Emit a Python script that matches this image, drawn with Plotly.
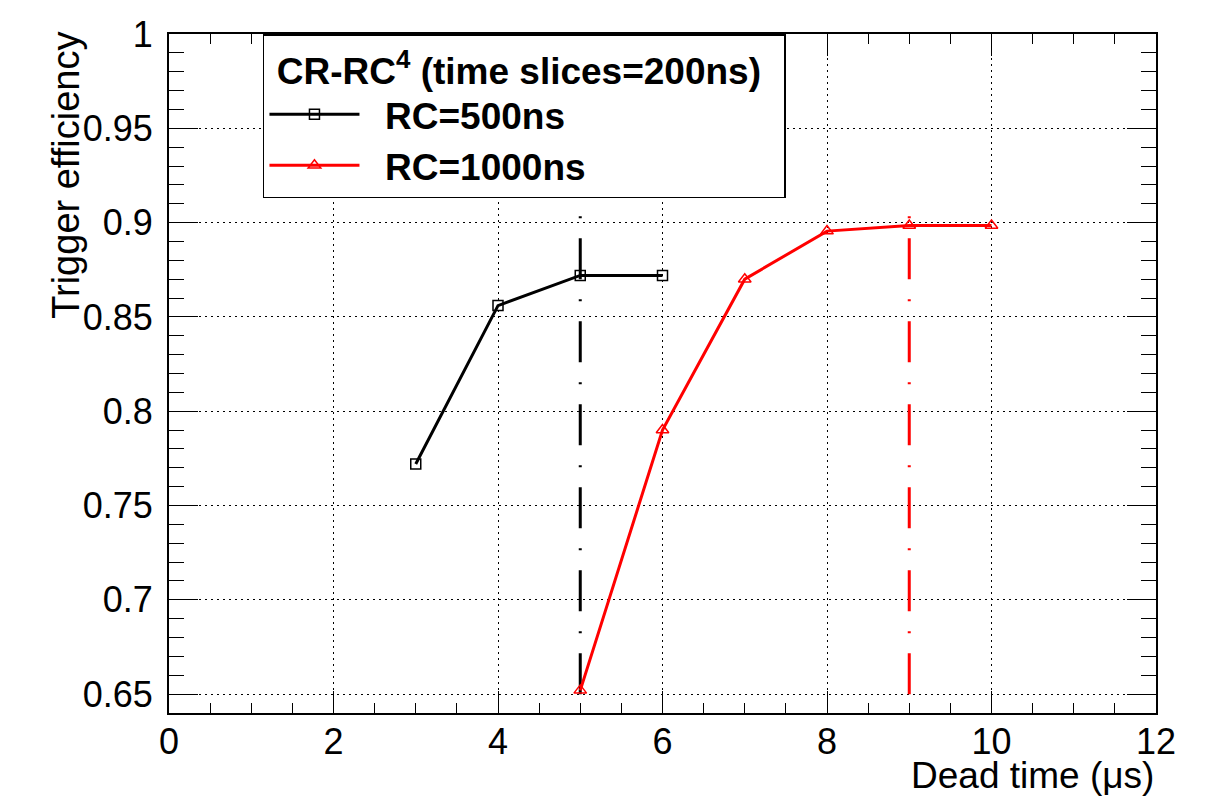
import plotly.graph_objects as go

# Data
dead_time_500 = [3, 4, 5, 6]
eff_500 = [0.772, 0.856, 0.872, 0.872]
dead_time_1000 = [5, 6, 7, 8, 9, 10]
eff_1000 = [0.652, 0.790, 0.870, 0.8955, 0.8985, 0.8985]
vline_500_x = [5, 5]
vline_1000_x = [9, 9]
vline_y = [0.65, 0.906]
y_tickvals = [0.65, 0.7, 0.75, 0.8, 0.85, 0.9, 0.95, 1.0]
y_ticktext = ["0.65", "0.7", "0.75", "0.8", "0.85", "0.9", "0.95", "1"]

FONT = "Liberation Sans, Arial, Helvetica, sans-serif"
NB = "\u00a0"

fig = go.Figure()

fig.add_trace(go.Scatter(
    x=vline_500_x, y=vline_y, mode="lines", showlegend=False, hoverinfo="skip",
    line=dict(color="black", width=3, dash="41px,20px,2px,20px")))
fig.add_trace(go.Scatter(
    x=vline_1000_x, y=vline_y, mode="lines", showlegend=False, hoverinfo="skip",
    line=dict(color="red", width=3, dash="41px,20px,2px,20px")))

fig.add_trace(go.Scatter(
    x=dead_time_500, y=eff_500, mode="lines+markers", name=NB * 2 + "RC=500ns",
    legendgroup="a",
    line=dict(color="black", width=3),
    marker=dict(symbol="square-open", size=10, color="black", line=dict(width=1.5))))
fig.add_trace(go.Scatter(
    x=dead_time_1000, y=eff_1000, mode="lines+markers", name=NB * 2 + "RC=1000ns",
    legendgroup="b",
    line=dict(color="red", width=3),
    marker=dict(symbol="triangle-up-open", size=11, color="red", line=dict(width=1.5))))

fig.update_layout(
    width=1199, height=789,
    margin=dict(l=161, r=51, t=26, b=84, autoexpand=False),
    paper_bgcolor="white", plot_bgcolor="white",
    font=dict(family=FONT, size=36, color="black"),
    legend=dict(
        x=0.0952, y=1, xanchor="left", yanchor="top",
        bordercolor="black", borderwidth=1.5, bgcolor="white",
        font=dict(family=FONT, size=37, color="black", weight="bold"),
        title=dict(text="<b>" + NB + "CR-RC<sup>4</sup> (time slices=200ns)" + NB + NB + "</b>",
                   font=dict(family=FONT, size=37, color="black")),
        itemwidth=90, tracegroupgap=0, traceorder="grouped",
    ),
    xaxis=dict(
        range=[0, 12], tickmode="linear", tick0=0, dtick=2,
        ticks="inside", ticklen=22, tickwidth=1, tickcolor="black",
        showline=True, linecolor="black", linewidth=2, mirror="ticks",
        showgrid=True, gridcolor="black", gridwidth=1, griddash="2px,4px",
        zeroline=False, ticklabelstandoff=-4, automargin=False,
        tickfont=dict(size=36),
        minor=dict(dtick=0.5, tick0=0, ticks="inside", ticklen=10, tickwidth=1,
                   tickcolor="black", showgrid=False),
    ),
    yaxis=dict(
        range=[0.64, 1.0],
        ticks="inside", ticklen=29, tickwidth=1, tickcolor="black",
        showline=True, linecolor="black", linewidth=2, mirror="ticks",
        showgrid=True, gridcolor="black", gridwidth=1, griddash="2px,4px",
        zeroline=False, ticklabelstandoff=7, automargin=False,
        tickvals=y_tickvals, ticktext=y_ticktext, tickfont=dict(size=36),
        minor=dict(dtick=0.01, tick0=0.64, ticks="inside", ticklen=15, tickwidth=1,
                   tickcolor="black", showgrid=False),
    ),
    annotations=[
        dict(text="Dead time (\u03bcs)", xref="paper", yref="paper",
             x=1.0, y=-0.092, xanchor="right", yanchor="middle", showarrow=False,
             font=dict(family=FONT, size=37, color="black")),
        dict(text="Trigger efficiency", xref="paper", yref="paper",
             x=-0.104, y=1.006, xanchor="center", yanchor="top", showarrow=False,
             textangle=-90, font=dict(family=FONT, size=38, color="black")),
    ],
)

fig.write_html("out.html")
